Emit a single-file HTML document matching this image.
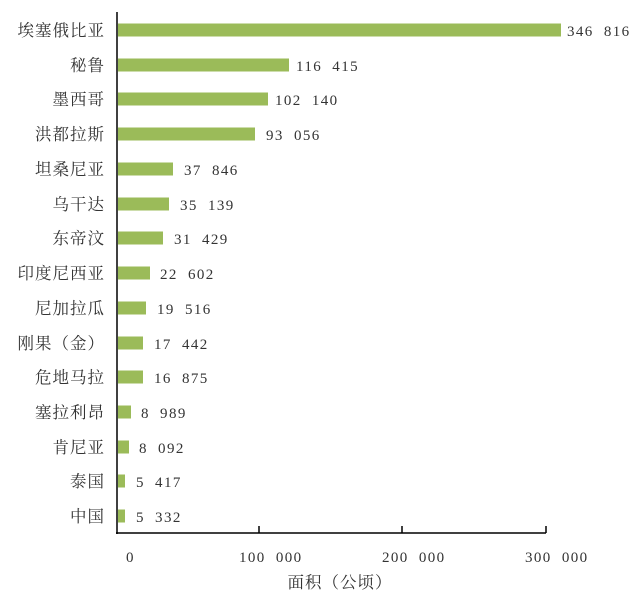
<!DOCTYPE html><html><head><meta charset="utf-8"><style>
body{margin:0;background:#fff;width:640px;height:599px;overflow:hidden}
svg text{font-family:"Liberation Serif","Noto Serif CJK SC",serif;fill:#333}
.n{letter-spacing:1.4px;word-spacing:5px}
</style></head><body>
<svg width="640" height="599" xmlns="http://www.w3.org/2000/svg">
<g fill="#9bbb59">
<rect x="118" y="23.5" width="443" height="13"/>
<rect x="118" y="58.5" width="171" height="13"/>
<rect x="118" y="92.5" width="150" height="13"/>
<rect x="118" y="127.5" width="137" height="13"/>
<rect x="118" y="162.5" width="55" height="13"/>
<rect x="118" y="197.5" width="51" height="13"/>
<rect x="118" y="231.5" width="45" height="13"/>
<rect x="118" y="266.5" width="32" height="13"/>
<rect x="118" y="301.5" width="28" height="13"/>
<rect x="118" y="336.5" width="25" height="13"/>
<rect x="118" y="370.5" width="25" height="13"/>
<rect x="118" y="405.5" width="13" height="13"/>
<rect x="118" y="440.5" width="11" height="13"/>
<rect x="118" y="474.5" width="7" height="13"/>
<rect x="118" y="509.5" width="7" height="13"/>
</g>
<g stroke="#000" stroke-width="1.5" fill="none">
<line x1="117" y1="12" x2="117" y2="534"/>
<line x1="116" y1="533" x2="546" y2="533"/>
<line x1="259" y1="526" x2="259" y2="533"/>
<line x1="402" y1="526" x2="402" y2="533"/>
<line x1="546" y1="526" x2="546" y2="533"/>
</g>
<g font-size="16.5" text-anchor="end" letter-spacing="1">
<text x="105" y="36">埃塞俄比亚</text>
<text x="105" y="71">秘鲁</text>
<text x="105" y="105">墨西哥</text>
<text x="105" y="140">洪都拉斯</text>
<text x="105" y="175">坦桑尼亚</text>
<text x="105" y="210">乌干达</text>
<text x="105" y="244">东帝汶</text>
<text x="105" y="279">印度尼西亚</text>
<text x="105" y="314">尼加拉瓜</text>
<text x="105" y="349">刚果（金）</text>
<text x="105" y="383">危地马拉</text>
<text x="105" y="418">塞拉利昂</text>
<text x="105" y="453">肯尼亚</text>
<text x="105" y="487">泰国</text>
<text x="105" y="522">中国</text>
</g>
<g font-size="15" class="n">
<text x="567" y="36">346 816</text>
<text x="296" y="71">116 415</text>
<text x="275" y="105">102 140</text>
<text x="266" y="140">93 056</text>
<text x="184" y="175">37 846</text>
<text x="180" y="210">35 139</text>
<text x="174" y="244">31 429</text>
<text x="160" y="279">22 602</text>
<text x="157" y="314">19 516</text>
<text x="154" y="349">17 442</text>
<text x="154" y="383">16 875</text>
<text x="141" y="418">8 989</text>
<text x="139" y="453">8 092</text>
<text x="136" y="487">5 417</text>
<text x="136" y="522">5 332</text>
</g>
<g font-size="15" class="n">
<text x="126" y="562">0</text>
<text x="239" y="562">100 000</text>
<text x="382" y="562">200 000</text>
<text x="525" y="562">300 000</text>
</g>
<text x="340" y="588" font-size="16.5" text-anchor="middle" letter-spacing="1">面积（公顷）</text>
</svg>
</body></html>
